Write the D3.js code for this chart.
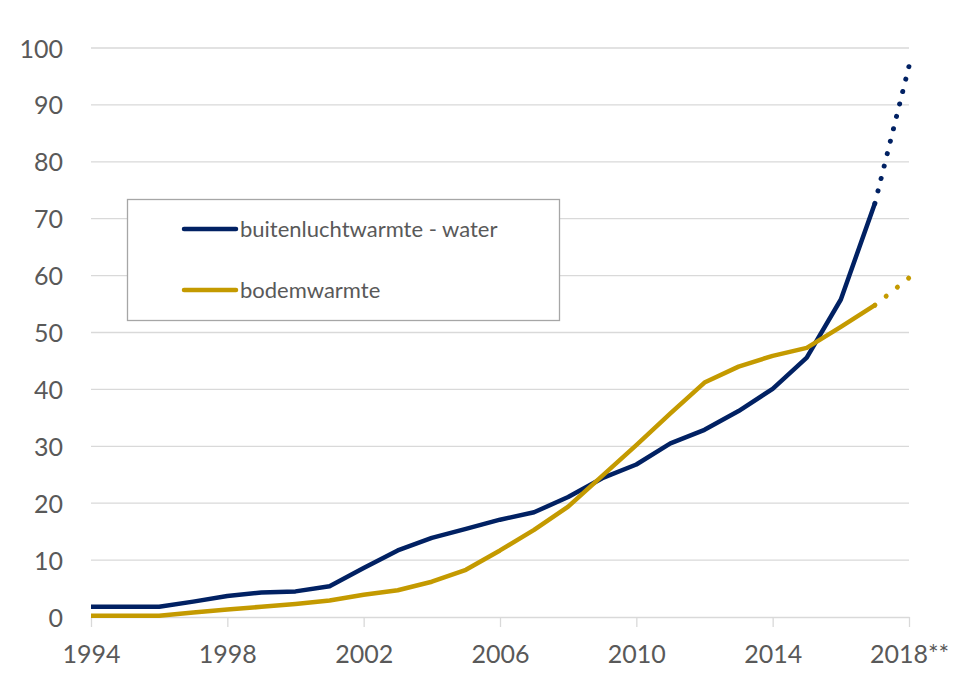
<!DOCTYPE html>
<html>
<head>
<meta charset="utf-8">
<script src="https://cdn.jsdelivr.net/npm/d3@7"></script>
<style>
  body { margin: 0; background: #fff; }
  svg { display: block; }
  .tick text { font-family: Lato, "Open Sans", sans-serif; fill: #595959; }
</style>
</head>
<body>
<svg id="chart" width="957" height="695"></svg>
<script>
// Data (2018 is a forecast, drawn dotted)
const years = d3.range(1994, 2019);
const luchtWater = [1.8, 1.8, 1.8, 2.7, 3.7, 4.3, 4.5, 5.4, 8.6, 11.7, 13.9, 15.5, 17.1,
  18.4, 21.1, 24.4, 26.8, 30.5, 32.9, 36.2, 40.1, 45.6, 55.8, 72.7, 96.8];
const bodem = [0.2, 0.2, 0.2, 0.8, 1.3, 1.8, 2.3, 2.9, 3.9, 4.7, 6.2, 8.3, 11.7,
  15.3, 19.4, 24.8, 30.2, 35.8, 41.2, 44.0, 45.9, 47.3, 51.0, 54.8, 59.6];
const yTicks = d3.range(0, 101, 10);
const xTicks = [1994, 1998, 2002, 2006, 2010, 2014, 2018];
const xTickLabel = y => y === 2018 ? '2018**' : String(y);

const series = [
  { name: 'buitenluchtwarmte - water', values: luchtWater, color: '#012163' },
  { name: 'bodemwarmte', values: bodem, color: '#c49a00' }
];

const svg = d3.select('#chart');
const margin = { left: 91, right: 48, top: 48, bottom: 78 };
const width = 957, height = 695;

const x = d3.scaleLinear().domain([1994, 2018]).range([margin.left, width - margin.right]);
const y = d3.scaleLinear().domain([0, 100]).range([height - margin.bottom, margin.top]);

// Gridlines
svg.append('g')
  .selectAll('line')
  .data(yTicks.filter(d => d > 0))
  .join('line')
  .attr('x1', x(1994)).attr('x2', x(2018))
  .attr('y1', d => y(d)).attr('y2', d => y(d))
  .attr('stroke', '#d9d9d9').attr('stroke-width', 1.3);

// Y axis (labels only)
const yAxis = svg.append('g')
  .attr('transform', `translate(${margin.left},0)`)
  .call(d3.axisLeft(y).tickValues(yTicks).tickSize(0).tickPadding(28));
yAxis.select('.domain').remove();
yAxis.selectAll('text').style('font-size', '25px').attr('dy', '0.36em');

// X axis
const xAxis = svg.append('g')
  .attr('transform', `translate(0,${y(0)})`)
  .call(d3.axisBottom(x).tickValues(xTicks).tickFormat(xTickLabel).tickSize(10).tickPadding(18).tickSizeOuter(0));
xAxis.select('.domain').attr('stroke', '#d9d9d9').attr('stroke-width', 1.3);
xAxis.selectAll('.tick line').attr('stroke', '#d9d9d9').attr('stroke-width', 1.3);
xAxis.selectAll('text').style('font-size', '25px');

// Lines: solid up to 2017, dotted 2017 -> 2018
const line = d3.line().x(d => x(d[0])).y(d => y(d[1]));
series.forEach(s => {
  const pts = years.map((yr, i) => [yr, s.values[i]]);
  svg.append('path')
    .datum(pts.slice(0, pts.length - 1))
    .attr('d', line)
    .attr('fill', 'none')
    .attr('stroke', s.color)
    .attr('stroke-width', 4.5)
    .attr('stroke-linejoin', 'round');
  const dotted = svg.append('path')
    .datum(pts.slice(pts.length - 2))
    .attr('d', line)
    .attr('fill', 'none')
    .attr('stroke', s.color)
    .attr('stroke-width', 5)
    .attr('stroke-linecap', 'round');
  // spread the dots so the last one lands on the 2018 point
  const len = dotted.node().getTotalLength();
  const n = Math.round(len / 12.8);
  const gap = (len - 0.5) / n;
  dotted.attr('stroke-dasharray', `0.01 ${gap - 0.01}`);
});

// Legend
const legend = svg.append('g');
legend.append('rect')
  .attr('x', 127.5).attr('y', 199.5).attr('width', 432).attr('height', 121)
  .attr('fill', '#fff').attr('stroke', '#a6a6a6').attr('stroke-width', 1.3);
series.forEach((s, i) => {
  const ly = 229 + i * 61;
  legend.append('line')
    .attr('x1', 184).attr('x2', 236).attr('y1', ly).attr('y2', ly)
    .attr('stroke', s.color).attr('stroke-width', 4.5).attr('stroke-linecap', 'round');
  legend.append('text')
    .attr('x', 240).attr('y', ly).attr('dy', '0.35em')
    .style('font-family', 'Lato, "Open Sans", sans-serif')
    .style('font-size', '22px')
    .attr('fill', '#595959')
    .text(s.name);
});
</script>
</body>
</html>
